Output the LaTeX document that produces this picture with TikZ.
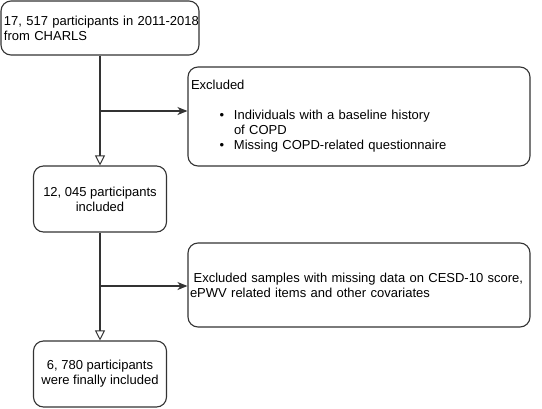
\documentclass[tikz,border=0pt]{standalone}
\usepackage{fontspec}
\setmainfont{Liberation Sans}
\usetikzlibrary{arrows.meta}
\definecolor{linec}{HTML}{333333}
\begin{document}
\begin{tikzpicture}[x=1pt,y=-1pt,
  box/.style={draw=linec,line width=1.1pt,rounded corners=10pt,inner ysep=0pt,
    font=\fontsize{13pt}{15pt}\selectfont,text=black},
  flow/.style={draw=linec,line width=1.1pt,-{Triangle[open,length=10pt,width=10pt,line width=1pt]}},
  side/.style={draw=linec,line width=1.1pt,-{Stealth[length=10pt,width=8pt,inset=3pt]}}]
\useasboundingbox (0,0) rectangle (542,408);

\node[box,minimum width=198pt,minimum height=54pt,text width=192pt,inner xsep=3pt,align=left]
  (start) at (100,28) {\mbox{17, 517 participants in 2011-2018}\\from CHARLS};

\node[box,minimum width=342pt,minimum height=99pt,text width=336pt,inner xsep=3pt,align=left]
  (excl1) at (359,116.5) {Excluded\\[15pt]
  \hspace*{28.5pt}\makebox[14.5pt][l]{\textbullet}Individuals with a baseline history\\
  \hspace*{43pt}of COPD\\
  \hspace*{28.5pt}\makebox[14.5pt][l]{\textbullet}Missing COPD-related questionnaire};

\node[box,minimum width=133pt,minimum height=66pt,align=center]
  (mid) at (100,199) {12, 045 participants\\included};

\node[box,minimum width=342pt,minimum height=84pt,text width=338pt,inner xsep=2pt,align=left]
  (excl2) at (359,285) {\mbox{\hspace*{3.6pt}Excluded samples with missing data on CESD-10 score,}\\ePWV related items and other covariates};

\node[box,minimum width=133pt,minimum height=66pt,align=center]
  (final) at (100,374) {6, 780 participants\\were finally included};

\coordinate (b1) at (100,111);
\coordinate (b2) at (100,286);

\draw[flow] (start.south) -- (mid.north);
\draw[side] (b1) -- (b1 -| excl1.west);
\draw[flow] (mid.south) -- (final.north);
\draw[side] (b2) -- (b2 -| excl2.west);
\end{tikzpicture}
\end{document}
